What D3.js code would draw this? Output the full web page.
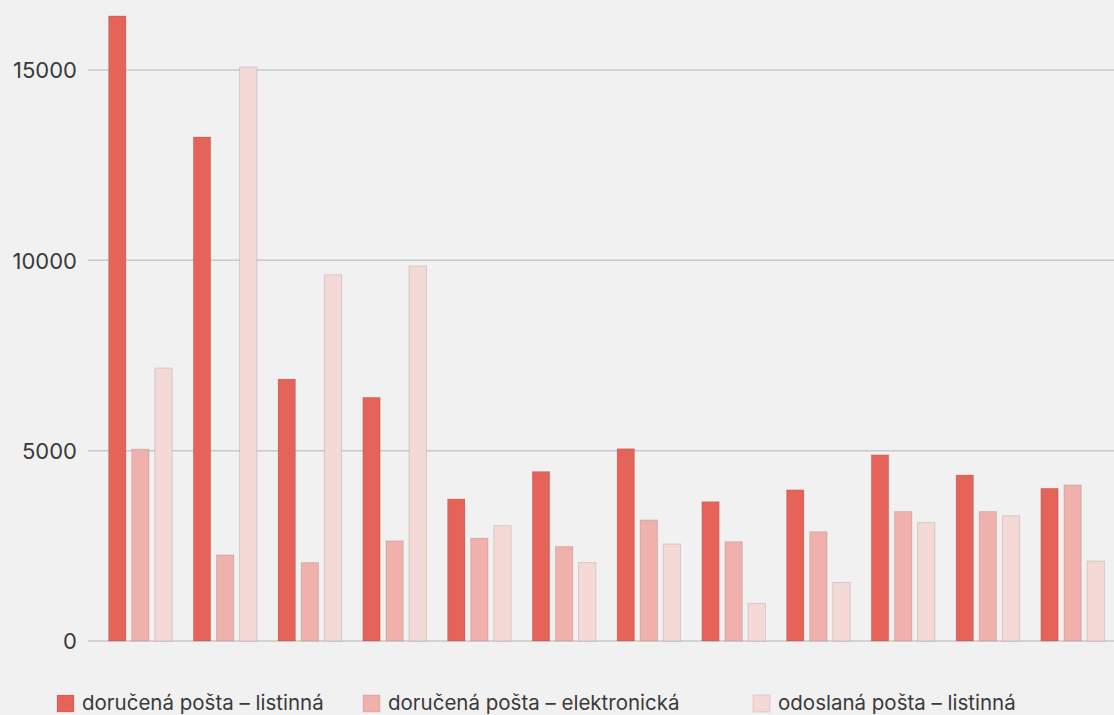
<!DOCTYPE html>
<html>
<head>
<meta charset="utf-8">
<script src="https://cdn.jsdelivr.net/npm/d3@7"></script>
<style>
  html, body { margin: 0; padding: 0; background: #f1f1f1; }
  svg { display: block; }
  text { font-family: Inter, "Noto Sans", sans-serif; fill: #3a3a3a; }
</style>
</head>
<body>
<svg id="chart" width="1114" height="715"></svg>
<script>
const categories = ["1", "2", "3", "4", "5", "6", "7", "8", "9", "10", "11", "12"];
const seriesNames = ["doručená pošta – listinná", "doručená pošta – elektronická", "odoslaná pošta – listinná"];
const seriesColors = ["#e6635a", "#f0b1ac", "#f5d9d6"];
const receivedPaper = [16420, 13240, 6880, 6400, 3730, 4450, 5050, 3660, 3970, 4890, 4360, 4010];
const receivedElectronic = [5040, 2260, 2060, 2630, 2700, 2480, 3180, 2610, 2870, 3400, 3400, 4100];
const sentPaper = [7170, 15080, 9620, 9850, 3030, 2060, 2550, 990, 1540, 3110, 3290, 2100];
const yTicks = [0, 5000, 10000, 15000];

const seriesValues = [receivedPaper, receivedElectronic, sentPaper];

const svg = d3.select("#chart");
const W = 1114, H = 715;

const y = d3.scaleLinear().domain([0, 15000]).range([641, 70]);

const x0 = d3.scaleBand().domain(categories).range([98, 1115]).paddingInner(0.25).paddingOuter(0.125);
const x1 = d3.scaleBand().domain(d3.range(seriesNames.length)).range([0, x0.bandwidth()]).paddingInner(0.25);

// y axis labels
const yAxis = d3.axisLeft(y).tickValues(yTicks).tickSize(0).tickPadding(0).tickFormat(d3.format("d"));
const gAxis = svg.append("g").attr("transform", "translate(77,0)").call(yAxis);
gAxis.select(".domain").remove();
gAxis.selectAll("text").attr("font-size", 22).attr("fill", "#3a3a3a")
  .attr("font-family", "Inter, 'Noto Sans', sans-serif").attr("dy", "0.35em");

// grid
svg.append("g").selectAll("line").data(yTicks).join("line")
  .attr("x1", 88).attr("x2", W)
  .attr("y1", d => y(d)).attr("y2", d => y(d))
  .attr("stroke", "#c9c9c9").attr("stroke-width", 1.5);

// bars
const groups = svg.append("g").selectAll("g").data(categories).join("g")
  .attr("transform", d => `translate(${x0(d)},0)`);

groups.selectAll("rect").data((d, i) => seriesValues.map((s, k) => ({ k, v: s[i] })))
  .join("rect")
  .attr("x", d => x1(d.k))
  .attr("width", x1.bandwidth())
  .attr("y", d => y(d.v))
  .attr("height", d => y(0) - y(d.v))
  .attr("fill", d => seriesColors[d.k])
  .attr("stroke", "rgba(0,0,0,0.12)")
  .attr("stroke-width", 1);

// legend
const legendX = [57, 363, 753];
const lg = svg.append("g").selectAll("g").data(seriesNames).join("g")
  .attr("transform", (d, i) => `translate(${legendX[i]},695)`);
lg.append("rect").attr("width", 17).attr("height", 17)
  .attr("fill", (d, i) => seriesColors[i]).attr("stroke", "rgba(0,0,0,0.1)");
lg.append("text").attr("x", 25).attr("y", 15)
  .attr("font-size", 20.5).text(d => d);
</script>
</body>
</html>
